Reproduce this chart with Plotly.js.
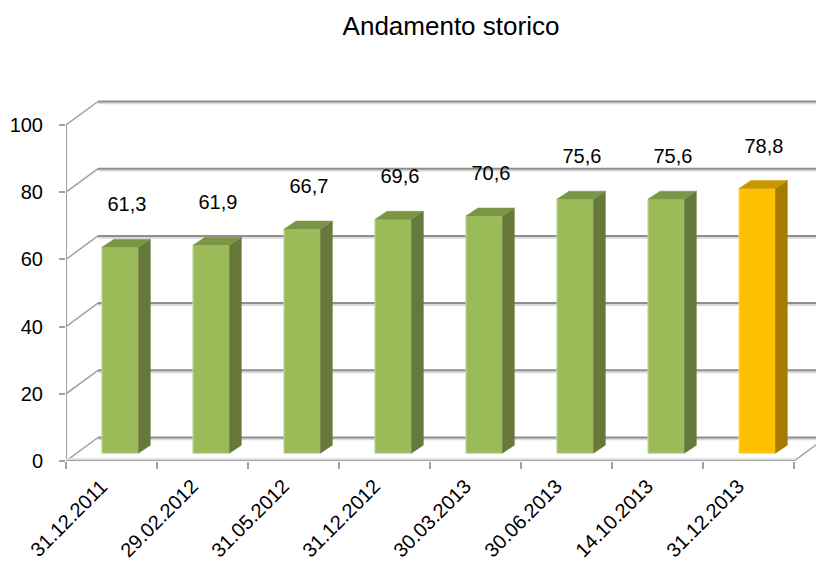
<!DOCTYPE html>
<html><head><meta charset="utf-8">
<script src="https://cdn.plot.ly/plotly-3.0.1.min.js"></script>
<style>html,body{margin:0;padding:0;background:#fff}#chart{width:816px;height:568px}</style>
</head><body><div id="chart"></div>
<script>
// ---- data ----
const categories = ['31.12.2011','29.02.2012','31.05.2012','31.12.2012','30.03.2013','30.06.2013','14.10.2013','31.12.2013'];
const values = [61.3, 61.9, 66.7, 69.6, 70.6, 75.6, 75.6, 78.8];
const valueLabels = ['61,3','61,9','66,7','69,6','70,6','75,6','75,6','78,8'];
const yTickVals = [0, 20, 40, 60, 80, 100];
const yTickText = ['0', '20', '40', '60', '80', '100'];
const highlightIndex = 7;

// ---- pseudo-3D geometry (data units) ----
const DX = 0.3516, DY = 7.0;      // offset of back wall relative to front plane
const d1 = 0.33;                  // depth of bar front faces
const barBase = DY * d1;
const barShift = 0.095, barW = 0.4;
const depthX = 0.132, depthY = 2.4;
const labelDX = 0.17, labelDY = 14.5;

const idx = categories.map((c, i) => i);
const isHi = i => i === highlightIndex;
const cFront = i => isHi(i) ? '#FFC000' : '#9BBB59';
const cSide = i => isHi(i) ? '#A67C00' : '#66793A';
const cTop = i => isHi(i) ? '#C89700' : '#7B9546';
const cEdge = i => isHi(i) ? '#FFD966' : '#C3D69B';

const traces = [];
// front faces
traces.push({
  type: 'bar', x: idx.map(i => i + barShift), y: values, base: barBase, width: barW,
  marker: {color: idx.map(cFront), line: {color: idx.map(cEdge), width: 1}},
  hoverinfo: 'skip', showlegend: false
});
// side + top faces
idx.forEach(i => {
  const xl = i + barShift - barW / 2, xr = i + barShift + barW / 2;
  const b = barBase, t = barBase + values[i];
  traces.push({
    type: 'scatter', mode: 'lines', fill: 'toself', fillcolor: cSide(i),
    x: [xr, xr, xr + depthX, xr + depthX, xr], y: [b, t, t + depthY, b + depthY, b],
    line: {color: cSide(i), width: 0.5}, hoverinfo: 'skip', showlegend: false
  });
  traces.push({
    type: 'scatter', mode: 'lines', fill: 'toself', fillcolor: cTop(i),
    x: [xl, xr, xr + depthX, xl + depthX, xl], y: [t, t, t + depthY, t + depthY, t],
    line: {color: cTop(i), width: 0.5}, hoverinfo: 'skip', showlegend: false
  });
});
// value labels
traces.push({
  type: 'scatter', mode: 'text', x: idx.map(i => i + labelDX), y: values.map(v => v + labelDY),
  text: valueLabels, textfont: {family: 'Liberation Sans, Arial, sans-serif', size: 20, color: '#000'},
  cliponaxis: false, hoverinfo: 'skip', showlegend: false
});

// walls / grid
const shapes = [];
const x0 = -0.5, xEnd = categories.length - 0.5;
yTickVals.forEach(v => {
  shapes.push({type: 'line', layer: 'below', xref: 'x', yref: 'y', x0: x0 + DX, x1: xEnd + DX + 1, y0: v + DY - 0.55, y1: v + DY - 0.55, line: {color: '#D9D9D9', width: 2}});
  shapes.push({type: 'line', layer: 'below', xref: 'x', yref: 'y', x0: x0 + DX, x1: xEnd + DX + 1, y0: v + DY, y1: v + DY, line: {color: '#8E8E8E', width: 2}});
  shapes.push({type: 'line', layer: 'below', xref: 'x', yref: 'y', x0: x0, x1: x0 + DX, y0: v, y1: v + DY, line: {color: '#A0A0A0', width: 1.5}});
});
// front y axis line
shapes.push({type: 'line', layer: 'below', xref: 'x', yref: 'y', x0: x0, x1: x0, y0: 0, y1: yTickVals[yTickVals.length - 1], line: {color: '#A0A0A0', width: 2}});
// front floor edge and right floor edge
shapes.push({type: 'line', layer: 'below', xref: 'x', yref: 'y', x0: x0, x1: xEnd, y0: 0.5, y1: 0.5, line: {color: '#DDDDDD', width: 2}});
shapes.push({type: 'line', layer: 'below', xref: 'x', yref: 'y', x0: x0, x1: xEnd, y0: 0, y1: 0, line: {color: '#A0A0A0', width: 2}});
shapes.push({type: 'line', layer: 'below', xref: 'x', yref: 'y', x0: xEnd, x1: xEnd + DX, y0: 0, y1: DY, line: {color: '#A0A0A0', width: 1.5}});

// category labels
const annotations = categories.map((c, i) => ({
  text: c, x: i + 0.03, y: 0, xref: 'x', yref: 'y', showarrow: false,
  textangle: -45, xanchor: 'right', yanchor: 'top', yshift: -11,
  font: {family: 'Liberation Sans, Arial, sans-serif', size: 20, color: '#000'}
}));

const layout = {
  width: 816, height: 568,
  margin: {l: 66, r: 0, t: 90, b: 107, pad: 0},
  paper_bgcolor: '#fff', plot_bgcolor: '#fff',
  title: {text: 'Andamento storico', x: 451 / 816, xref: 'container', xanchor: 'center',
          y: 1 - 26 / 568, yref: 'container', yanchor: 'middle',
          font: {family: 'Liberation Sans, Arial, sans-serif', size: 26, color: '#000'}},
  xaxis: {range: [-0.5, -0.5 + 750 / 91], showgrid: false, zeroline: false, showline: false,
          tickmode: 'array', tickvals: idx.map(i => i - 0.5).concat([xEnd]), ticktext: idx.map(() => '').concat(['']),
          ticks: 'outside', ticklen: 7, tickwidth: 2, tickcolor: '#A0A0A0', fixedrange: true},
  yaxis: {range: [0, 371 / 3.36], showgrid: false, zeroline: false, showline: false,
          tickmode: 'array', tickvals: yTickVals, ticktext: yTickText,
          ticks: 'outside', ticklen: 6, tickwidth: 2, tickcolor: '#A0A0A0', ticklabelstandoff: 12,
          tickfont: {family: 'Liberation Sans, Arial, sans-serif', size: 20, color: '#000'}, fixedrange: true},
  shapes: shapes, annotations: annotations,
  bargap: 0, showlegend: false, hovermode: false
};

Plotly.newPlot('chart', traces, layout, {displayModeBar: false, staticPlot: true});
</script>
</body></html>
